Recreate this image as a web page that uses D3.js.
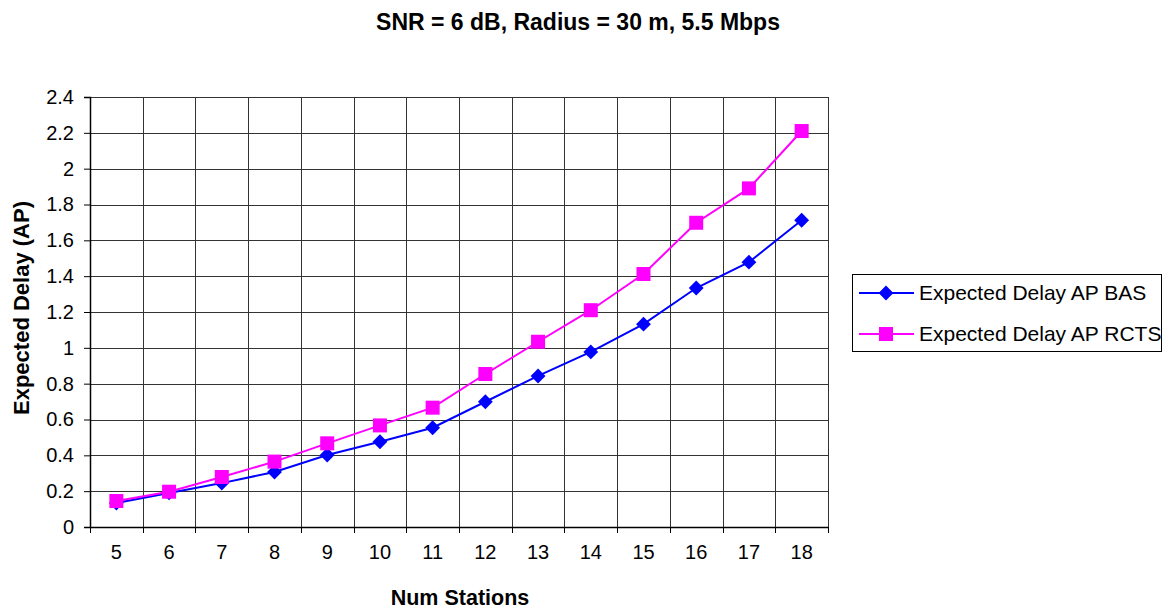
<!DOCTYPE html>
<html>
<head>
<meta charset="utf-8">
<script src="https://cdn.jsdelivr.net/npm/d3@7"></script>
<style>
  body { margin: 0; background: #fff; }
  text { font-family: "Liberation Sans", Arial, sans-serif; }
</style>
</head>
<body>
<div id="chart"></div>
<script>
const stations = [5, 6, 7, 8, 9, 10, 11, 12, 13, 14, 15, 16, 17, 18];
const delayBAS = [0.134, 0.19, 0.245, 0.307, 0.402, 0.476, 0.554, 0.699, 0.843, 0.977, 1.132, 1.334, 1.478, 1.712];
const delayRCTS = [0.145, 0.197, 0.279, 0.365, 0.467, 0.567, 0.666, 0.854, 1.034, 1.21, 1.412, 1.698, 1.89, 2.21];
const yTicks = [0, 0.2, 0.4, 0.6, 0.8, 1, 1.2, 1.4, 1.6, 1.8, 2, 2.2, 2.4];
const seriesNames = ['Expected Delay AP BAS', 'Expected Delay AP RCTS'];

const width = 1173;
const height = 610;
const margin = { top: 97, left: 90, right: 345, bottom: 83 };

const svg = d3.select('#chart')
  .append('svg')
  .attr('width', width)
  .attr('height', height);

const x = d3.scaleBand()
  .domain(stations)
  .range([margin.left, width - margin.right]);

const y = d3.scaleLinear()
  .domain([0, 2.4])
  .range([height - margin.bottom, margin.top]);

// grid
const grid = svg.append('g');
grid.selectAll('line.h')
  .data(yTicks)
  .enter().append('line')
  .attr('x1', margin.left).attr('x2', width - margin.right)
  .attr('y1', d => Math.round(y(d)) + 0.5).attr('y2', d => Math.round(y(d)) + 0.5)
  .attr('stroke', '#333').attr('stroke-width', 1);
grid.selectAll('line.v')
  .data(stations.slice(1).concat(['end']))
  .enter().append('line')
  .attr('x1', (d, i) => Math.round(margin.left + x.bandwidth() * (i + 1)) + 0.5)
  .attr('x2', (d, i) => Math.round(margin.left + x.bandwidth() * (i + 1)) + 0.5)
  .attr('y1', margin.top).attr('y2', height - margin.bottom)
  .attr('stroke', '#333').attr('stroke-width', 1);

// axes
const yAxis = svg.append('g')
  .attr('transform', `translate(${margin.left},0)`)
  .call(d3.axisLeft(y).tickValues(yTicks).tickSize(6).tickPadding(10).tickFormat(d3.format('')));
const xAxis = svg.append('g')
  .attr('transform', `translate(0,${height - margin.bottom})`)
  .call(d3.axisBottom(x).tickSize(0).tickPadding(18));

// x ticks at band boundaries
svg.append('g').selectAll('line')
  .data(d3.range(stations.length + 1))
  .enter().append('line')
  .attr('x1', i => Math.round(margin.left + x.bandwidth() * i) + 0.5)
  .attr('x2', i => Math.round(margin.left + x.bandwidth() * i) + 0.5)
  .attr('y1', height - margin.bottom).attr('y2', height - margin.bottom + 6)
  .attr('stroke', '#000');

[xAxis, yAxis].forEach(a => {
  a.select('.domain').attr('stroke', '#000').attr('stroke-width', 1.5);
  a.selectAll('.tick line').attr('stroke', '#000');
  a.selectAll('text').attr('font-size', 20).attr('fill', '#000')
    .style('font-family', '"Liberation Sans", Arial, sans-serif');
});

// lines
const cx = d => x(d) + x.bandwidth() / 2;
const lineGen = d3.line()
  .x(d => cx(d[0]))
  .y(d => y(d[1]));

const bas = stations.map((s, i) => [s, delayBAS[i]]);
const rcts = stations.map((s, i) => [s, delayRCTS[i]]);

svg.append('path').datum(bas)
  .attr('d', lineGen).attr('fill', 'none')
  .attr('stroke', '#0000ff').attr('stroke-width', 2);
svg.append('path').datum(rcts)
  .attr('d', lineGen).attr('fill', 'none')
  .attr('stroke', '#ff00ff').attr('stroke-width', 2);

const diamond = d3.symbol().type(d3.symbolSquare).size(110);
svg.append('g').selectAll('path')
  .data(bas).enter().append('path')
  .attr('d', diamond)
  .attr('transform', d => `translate(${cx(d[0])},${y(d[1])}) rotate(45)`)
  .attr('fill', '#0000ff');

svg.append('g').selectAll('rect')
  .data(rcts).enter().append('rect')
  .attr('x', d => cx(d[0]) - 7).attr('y', d => y(d[1]) - 7)
  .attr('width', 14).attr('height', 14)
  .attr('fill', '#ff00ff');

// title and axis labels
svg.append('text')
  .attr('x', 578).attr('y', 30)
  .attr('text-anchor', 'middle')
  .attr('font-size', 23).attr('font-weight', 'bold')
  .text('SNR = 6 dB, Radius = 30 m, 5.5 Mbps');

svg.append('text')
  .attr('x', 460).attr('y', 605)
  .attr('text-anchor', 'middle')
  .attr('font-size', 21.5).attr('font-weight', 'bold')
  .text('Num Stations');

svg.append('text')
  .attr('transform', 'translate(29,308) rotate(-90)')
  .attr('text-anchor', 'middle')
  .attr('font-size', 22).attr('font-weight', 'bold')
  .text('Expected Delay (AP)');

// legend
const legend = svg.append('g');
legend.append('rect')
  .attr('x', 852.5).attr('y', 274.5)
  .attr('width', 309).attr('height', 77)
  .attr('fill', '#fff').attr('stroke', '#000').attr('stroke-width', 1);

const legendColors = ['#0000ff', '#ff00ff'];
seriesNames.forEach((name, i) => {
  const ly = 293 + i * 41;
  legend.append('line')
    .attr('x1', 859).attr('x2', 914)
    .attr('y1', ly).attr('y2', ly)
    .attr('stroke', legendColors[i]).attr('stroke-width', 2);
  if (i === 0) {
    legend.append('path')
      .attr('d', diamond)
      .attr('transform', `translate(886,${ly}) rotate(45)`)
      .attr('fill', legendColors[i]);
  } else {
    legend.append('rect')
      .attr('x', 879).attr('y', ly - 7)
      .attr('width', 14).attr('height', 14)
      .attr('fill', legendColors[i]);
  }
  legend.append('text')
    .attr('x', 919).attr('y', ly + 7)
    .attr('font-size', 21)
    .text(name);
});
</script>
</body>
</html>
